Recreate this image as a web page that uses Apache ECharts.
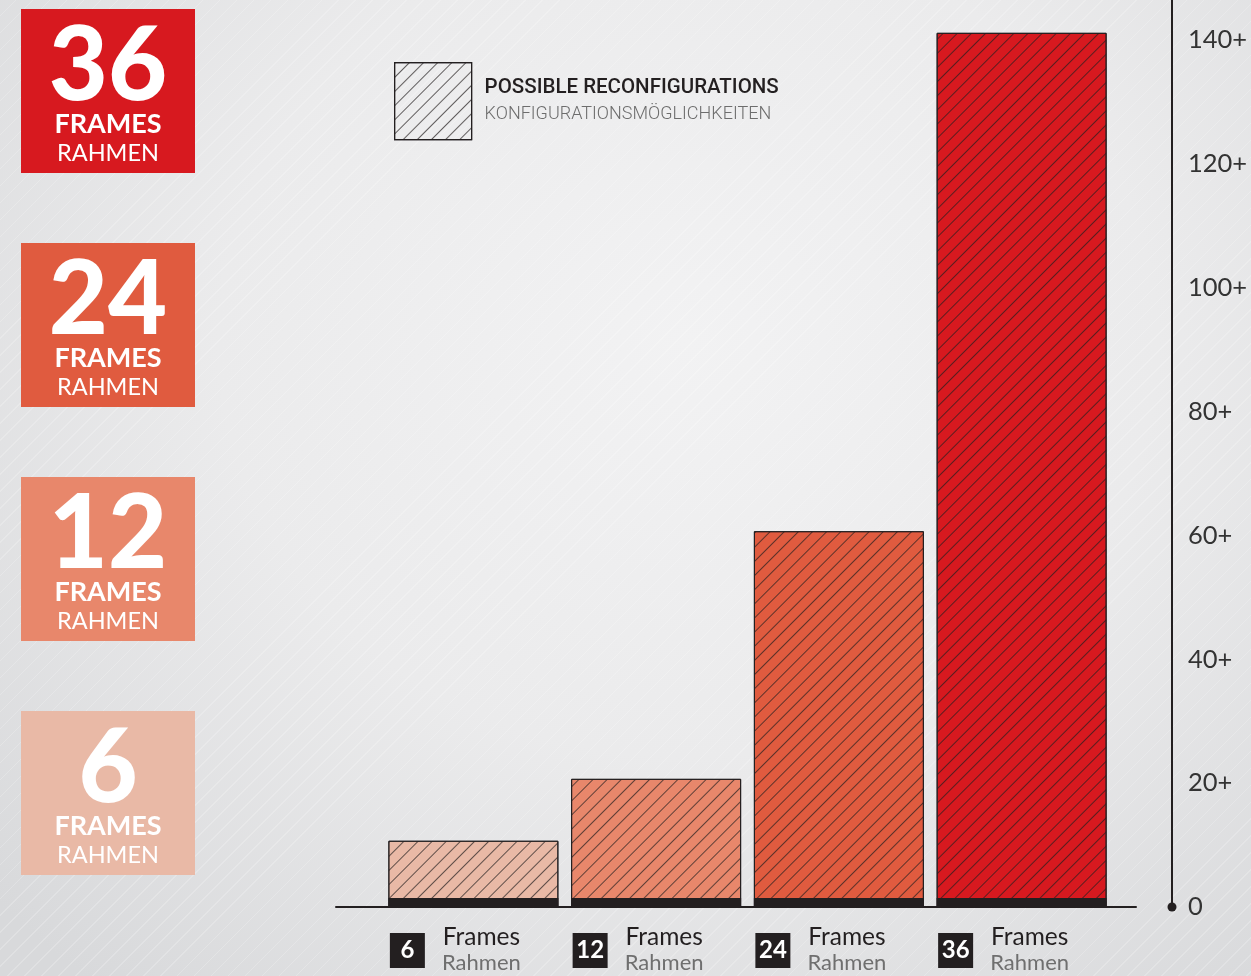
<!DOCTYPE html>
<html>
<head>
<meta charset="utf-8">
<title>Possible reconfigurations</title>
<script src="https://cdn.jsdelivr.net/npm/echarts@6/dist/echarts.min.js"></script>
<style>
  html, body { margin: 0; padding: 0; }
  body {
    width: 1251px; height: 976px; overflow: hidden;
    background:
      repeating-linear-gradient(135deg, rgba(255,255,255,0) 0 11px, rgba(255,255,255,0.2) 11px 12px),
      radial-gradient(ellipse 75% 85% at 55% 35%, #f2f2f3 0%, #ebebec 50%, #d8d9db 100%);
  }
  #chart { width: 1251px; height: 976px; }
</style>
</head>
<body>
<div id="chart"></div>
<script>
// data
const frameCounts = ['6', '12', '24', '36']
const reconfigurations = [10.7, 20.7, 60.7, 141.2]
const yTicks = [0, 20, 40, 60, 80, 100, 120, 140]
const legendLines = ['POSSIBLE RECONFIGURATIONS', 'KONFIGURATIONSMÖGLICHKEITEN']
const unitLines = ['Frames', 'Rahmen']
const boxLines = ['FRAMES', 'RAHMEN']

const frameColors = ['#e9b9a6', '#e8876b', '#e05b3f', '#d7191f']
const ink = '#231f20'
const baseBand = 1.45 // black foot under each bar

const hatch = {
  symbol: 'rect',
  symbolSize: 1,
  dashArrayX: [1, 0],
  dashArrayY: [1, 9],
  rotation: -Math.PI / 4,
  color: 'rgba(35,31,32,0.7)'
}

const chart = echarts.init(document.getElementById('chart'))

// the numbered squares down the left side
const boxes = frameCounts.map((n, i) => {
  const top = 9 + (frameCounts.length - 1 - i) * 234
  return {
    type: 'group',
    left: 21,
    top: top,
    children: [
      { type: 'rect', shape: { x: 0, y: 0, width: 174, height: 164 }, style: { fill: frameColors[i] } },
      { type: 'text', x: 87, y: 58, style: { text: n, fill: '#fff', font: '900 102px Lato', align: 'center', verticalAlign: 'middle' } },
      { type: 'text', x: 87, y: 115, style: { text: boxLines[0], fill: '#fff', font: 'bold 27px Lato', align: 'center', verticalAlign: 'middle' } },
      { type: 'text', x: 87, y: 144, style: { text: boxLines[1], fill: '#fff', font: '23.5px Lato', align: 'center', verticalAlign: 'middle' } }
    ]
  }
})

chart.setOption({
  animation: false,
  backgroundColor: 'transparent',
  legend: {
    left: 389,
    top: 57,
    itemWidth: 77,
    itemHeight: 77,
    selectedMode: false,
    data: [{
      name: legendLines[0],
      icon: 'rect',
      itemStyle: { color: 'rgba(0,0,0,0)', borderColor: ink, borderWidth: 1.2, decal: hatch }
    }],
    formatter: () => '{s|}{a|' + legendLines[0] + '}\n{s|}{b|' + legendLines[1] + '}',
    textStyle: {
      rich: {
        s: { width: 8 },
        a: { fontFamily: 'Roboto', fontSize: 20.5, fontWeight: 500, color: ink, lineHeight: 26 },
        b: { fontFamily: 'Roboto', fontSize: 18, fontWeight: 300, color: '#6d6d6d', lineHeight: 26 }
      }
    }
  },
  grid: [
    { left: 382, right: 138, top: 0, bottom: 69 },
    { left: 336, right: 115, top: 0, bottom: 69 }
  ],
  xAxis: [
    {
      type: 'category',
      gridIndex: 0,
      data: frameCounts,
      position: 'bottom',
      axisLine: { show: false },
      axisTick: { show: false },
      axisLabel: {
        interval: 0,
        margin: 26,
        formatter: v => '{b|' + v + '}{s|}',
        rich: {
          b: { width: 35, height: 35, lineHeight: 35, align: 'center', backgroundColor: ink, color: '#fff', fontFamily: 'Lato', fontSize: 24, fontWeight: 'bold' },
          s: { width: 132 }
        }
      }
    },
    {
      type: 'category',
      gridIndex: 0,
      data: frameCounts,
      position: 'bottom',
      axisLine: { show: false },
      axisTick: { show: false },
      axisLabel: {
        interval: 0,
        margin: 17,
        formatter: () => '{s|}{f|' + unitLines[0] + '}\n{s|}{r|' + unitLines[1] + '}',
        rich: {
          s: { width: 16 },
          f: { width: 84, align: 'left', fontFamily: 'Lato', fontSize: 24.5, color: ink, lineHeight: 26 },
          r: { width: 84, align: 'left', fontFamily: 'Lato', fontSize: 22, color: '#6f6f6f', lineHeight: 26 }
        }
      }
    },
    {
      type: 'category',
      gridIndex: 1,
      data: frameCounts,
      axisLine: { show: true, lineStyle: { color: ink, width: 2 } },
      axisTick: { show: false },
      axisLabel: { show: false }
    }
  ],
  yAxis: [
    {
      type: 'value',
      gridIndex: 0,
      position: 'right',
      offset: 59,
      min: 0,
      max: 146.5,
      interval: 20,
      axisLine: {
        show: true,
        symbol: ['circle', 'none'],
        symbolSize: [9, 9],
        lineStyle: { color: ink, width: 2 }
      },
      axisTick: { show: false },
      splitLine: { show: false },
      axisLabel: {
        margin: 16,
        fontFamily: 'Lato',
        fontSize: 25.5,
        color: '#333',
        formatter: v => (v === 0 ? '0' : (yTicks.indexOf(v) >= 0 ? v + '+' : ''))
      }
    },
    { type: 'value', gridIndex: 1, show: false, min: 0, max: 146.5 }
  ],
  series: [
    {
      name: legendLines[0],
      type: 'bar',
      xAxisIndex: 0,
      yAxisIndex: 0,
      barWidth: 170,
      itemStyle: { borderColor: ink, borderWidth: 1, decal: hatch },
      emphasis: { disabled: true },
      data: reconfigurations.map((v, i) => ({ value: v, itemStyle: { color: frameColors[i] } }))
    },
    {
      type: 'bar',
      xAxisIndex: 0,
      yAxisIndex: 0,
      barWidth: 170,
      barGap: '-100%',
      silent: true,
      itemStyle: { color: ink },
      data: frameCounts.map(() => baseBand)
    }
  ],
  graphic: boxes
})
</script>
</body>
</html>
